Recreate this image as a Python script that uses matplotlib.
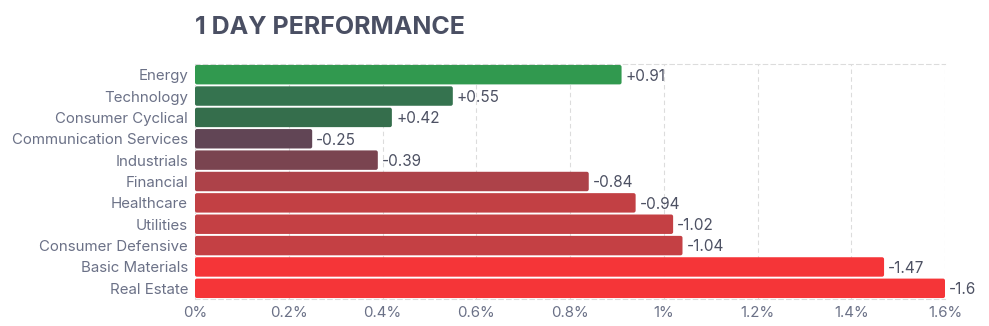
import matplotlib
matplotlib.use("Agg")
import matplotlib.pyplot as plt
from matplotlib.patches import FancyBboxPatch

sectors = ["Energy", "Technology", "Consumer Cyclical", "Communication Services",
           "Industrials", "Financial", "Healthcare", "Utilities",
           "Consumer Defensive", "Basic Materials", "Real Estate"]
changes = [0.91, 0.55, 0.42, -0.25, -0.39, -0.84, -0.94, -1.02, -1.04, -1.47, -1.6]
bar_colors = ["#31994f", "#35734f", "#356e4c", "#614555", "#7a4450", "#ad4249",
              "#c24044", "#c44044", "#c44044", "#f53538", "#f53538"]
xticks = [0, 0.2, 0.4, 0.6, 0.8, 1.0, 1.2, 1.4, 1.6]

plt.rcParams['font.family'] = ['Inter', 'DejaVu Sans']

fig = plt.figure(figsize=(9.89, 3.26), dpi=100)
ax = fig.add_axes([195/989, 1-299/326, 750/989, 235/326])

ypos = list(range(len(sectors)))
bars = ax.barh(ypos, [abs(v) for v in changes], height=0.91, color=bar_colors, zorder=3)
ax.set_xlim(0, 1.6)
ax.set_ylim(len(sectors) - 0.5, -0.5)

# swap plain bars for slightly rounded ones
px_x = 750 / 1.6
px_y = 235 / len(sectors)
r = 2.0 / px_x
for b in bars:
    x0, y0 = b.get_x(), b.get_y()
    w, h = b.get_width(), b.get_height()
    fb = FancyBboxPatch((x0, y0), w, h, boxstyle=f"round,pad=0,rounding_size={r}",
                        mutation_aspect=px_x / px_y, facecolor=b.get_facecolor(),
                        edgecolor="none", zorder=3)
    ax.add_patch(fb)
    b.set_visible(False)

for y, v in zip(ypos, changes):
    txt = f"+{v:g}" if v > 0 else f"{v:g}"
    ax.annotate(txt, (abs(v), y), xytext=(3, -1), textcoords="offset points",
                ha="left", va="center", fontsize=11, color="#4d5163", zorder=4)

ax.set_yticks(ypos)
ax.set_yticklabels(sectors)
ax.set_xticks(xticks)
ax.set_xticklabels([f"{t:g}%" for t in xticks])
ax.tick_params(axis="both", length=0, labelsize=10.8, labelcolor="#6b7187")
ax.tick_params(axis="y", pad=5)
ax.tick_params(axis="x", pad=5)

ax.grid(axis="x", color="#dcdcdc", linestyle=(0, (4, 3)), linewidth=0.8, zorder=0)
for s in ["left", "right"]:
    ax.spines[s].set_visible(False)
for s in ["top", "bottom"]:
    ax.spines[s].set_color("#dcdcdc")
    ax.spines[s].set_linestyle((0, (4, 3)))
    ax.spines[s].set_linewidth(0.8)

fig.text(195/989, 1-27/326, "1 DAY PERFORMANCE", fontsize=18, fontweight="bold",
         color="#4a4f63", ha="left", va="center")

fig.savefig("out.png", dpi=100)
